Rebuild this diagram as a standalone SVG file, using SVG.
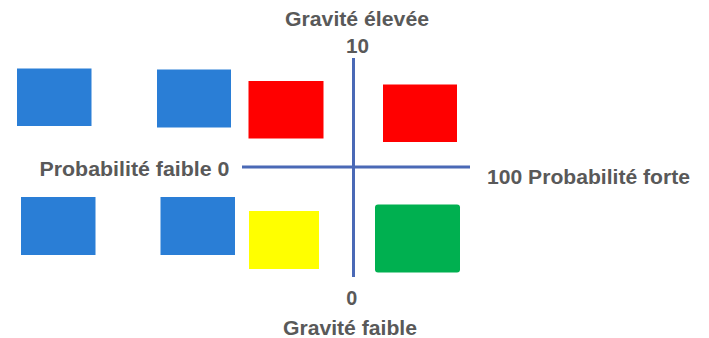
<svg xmlns="http://www.w3.org/2000/svg" width="709" height="338" viewBox="0 0 709 338">
<style>
.t{font-family:"Liberation Sans",Arial,sans-serif;font-weight:bold;font-size:20px;fill:#595959}
.ax{stroke:#4A69B6;stroke-width:3;fill:none}
.blue{fill:#2A7ED6}
.red{fill:#FF0000}
</style>
<rect width="709" height="338" fill="#FFFFFF"/>
<g id="connectors">
<line class="ax" x1="353.5" y1="58" x2="353.5" y2="277"/>
<line class="ax" x1="242" y1="167" x2="470" y2="167"/>
</g>
<g id="blue1"><rect class="blue" x="17" y="68.5" width="74.5" height="57.5"/></g>
<g id="blue2"><rect class="blue" x="157" y="69.5" width="74" height="58"/></g>
<g id="red1"><rect class="red" x="248.5" y="81" width="75" height="57.5"/></g>
<g id="red2"><rect class="red" x="383" y="84.5" width="74" height="57.5"/></g>
<g id="blue3"><rect class="blue" x="21" y="197" width="74.5" height="58"/></g>
<g id="blue4"><rect class="blue" x="160.5" y="197" width="74.5" height="58"/></g>
<g id="yellow"><rect x="249" y="211" width="70" height="58" fill="#FFFF00"/></g>
<g id="green"><rect x="375" y="204.5" width="85" height="68" rx="3" fill="#00B050"/></g>
<g id="labels">
<text class="t" x="285" y="26" textLength="144" lengthAdjust="spacingAndGlyphs">Gravité élevée</text>
<text class="t" x="346" y="53" textLength="23" lengthAdjust="spacingAndGlyphs">10</text>
<text class="t" x="39.5" y="176" textLength="190" lengthAdjust="spacingAndGlyphs">Probabilité faible 0</text>
<text class="t" x="487" y="183.5" textLength="203" lengthAdjust="spacingAndGlyphs">100 Probabilité forte</text>
<text class="t" x="351.7" y="305" text-anchor="middle" textLength="11" lengthAdjust="spacingAndGlyphs">0</text>
<text class="t" x="283" y="335" textLength="134" lengthAdjust="spacingAndGlyphs">Gravité faible</text>
</g>
</svg>
